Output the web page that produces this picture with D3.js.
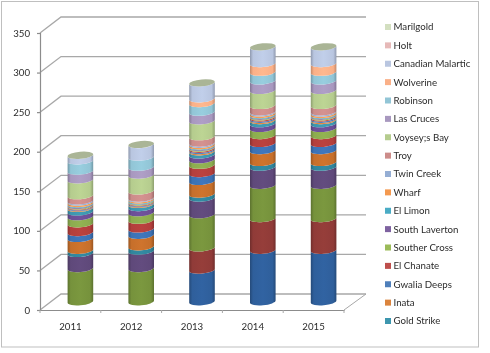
<!DOCTYPE html>
<html lang="en">
<head>
  <meta charset="UTF-8">
  <title>Stacked cylinders</title>
  <script src="https://cdn.jsdelivr.net/npm/d3@7"></script>
  <style>
    body { margin: 0; background: #fff; }
    /* the reference is a soft, resampled screenshot */
    svg { filter: blur(0.35px); }
    text { font-family: Lato, sans-serif; font-size: 9.7px; fill: #2b2b2b; }
  </style>
</head>
<body>
  <svg id="chart" width="490" height="353"></svg>
  <script>
    const years = ["2011", "2012", "2013", "2014", "2015"];
    const yTicks = [0, 50, 100, 150, 200, 250, 300, 350];

    // bands at the foot of the columns have no entry in the legend of the picture
    const lowerBands = [
      [0, 0, 40, 65, 65],
      [0, 0, 28, 40, 40],
      [42, 42, 42, 42, 42],
      [19, 22, 21, 23, 23],
      [4, 5.5, 5, 6, 6],
      [15, 14.5, 16, 15, 15],
      [7.5, 8, 10, 9, 9],
      [11, 11, 10.5, 10, 10],
      [9, 9.5, 7, 9, 9],
      [6, 6.5, 6, 6, 6]
    ];
    const lowerColors = ["#2f5f9b", "#903b38", "#76923c", "#5f497a", "#31859c", "#c66f2b",
                         "#3c72b5", "#b33f3c", "#8cac4f", "#6b4f96"];

    // bottom to top, the legend lists them the other way round
    const names = ["Gold Strike", "Inata", "Gwalia Deeps", "El Chanate", "Souther Cross",
                   "South Laverton", "El Limon", "Wharf", "Twin Creek", "Troy", "Voysey;s Bay",
                   "Las Cruces", "Robinson", "Wolverine", "Canadian Malartic", "Holt", "Marilgold"];
    const namedBands = [
      [4.5, 4, 4, 4, 4],
      [1, 1, 1.5, 1.5, 1.5],
      [1, 1, 1.5, 1.5, 1.5],
      [1, 1, 1.5, 1.5, 1.5],
      [1, 1, 1, 1, 1],
      [1, 0.5, 1, 1, 1],
      [1, 1, 1, 1, 1],
      [2, 1.5, 2, 2, 2],
      [1.5, 1, 1.5, 1.5, 1.5],
      [6.5, 9, 8, 8, 8],
      [20, 20, 20, 19, 19],
      [11, 10, 11, 12, 12],
      [13, 12.7, 11, 11, 11],
      [0, 0, 6, 11, 11],
      [7, 16, 20, 21, 21],
      [0, 0, 0, 0, 0],
      [0, 0, 0, 0, 0]
    ];
    const namedColors = ["#3d96ae", "#db843d", "#4f7fba", "#be4f4c", "#9bbb59", "#7e62a0",
                         "#4aacc5", "#f4994f", "#95aed4", "#cc8c8a", "#b5cc8e", "#a898bf",
                         "#92c5d6", "#fab088", "#b9c6e0", "#e6b9b8", "#d3dfc0"];

    const allBands = lowerBands.concat(namedBands);
    const allColors = lowerColors.concat(namedColors);

    const svg = d3.select("#chart");
    const depthX = 21, depthY = 16;
    const lineColor = "#a8a8a8";

    const x = d3.scaleBand().domain(years).range([40, 344]);
    const y = d3.scaleLinear().domain([0, 350]).range([310, 33]);

    svg.append("rect")
      .attr("x", 1.5).attr("y", 1.5)
      .attr("width", 477).attr("height", 345.5)
      .attr("fill", "#fff").attr("stroke", "#bfbfbf").attr("stroke-width", 1);

    // back wall and side wall lines
    svg.append("g").selectAll("path")
      .data(yTicks)
      .enter()
      .append("path")
      .attr("d", d => `M40,${y(d)}L${40 + depthX},${y(d) - depthY}L${344 + depthX + 1},${y(d) - depthY}`)
      .attr("fill", "none")
      .attr("stroke", lineColor)
      .attr("stroke-width", 1.3);

    // floor edge on the right
    svg.append("path")
      .attr("d", `M344,${y(0)}L${344 + depthX + 1},${y(0) - depthY}`)
      .attr("fill", "none").attr("stroke", lineColor).attr("stroke-width", 1);

    const yAxis = d3.axisLeft(y).tickValues(yTicks).tickSize(3).tickPadding(7);
    const gy = svg.append("g").attr("transform", "translate(40,0)").call(yAxis);

    const xAxis = d3.axisBottom(x).tickSize(0).tickPadding(13);
    const gx = svg.append("g").attr("transform", `translate(0,${y(0)})`).call(xAxis);

    gx.selectAll(".edge")
      .data(d3.range(years.length + 1))
      .enter()
      .append("line")
      .attr("class", "edge")
      .attr("x1", i => 40 + i * x.bandwidth())
      .attr("x2", i => 40 + i * x.bandwidth())
      .attr("y1", 0).attr("y2", 3)
      .attr("stroke", lineColor);

    svg.selectAll(".domain, .tick line").attr("stroke", "#8c8c8c").attr("stroke-width", 1.2);
    svg.selectAll(".tick text").style("font-size", "9.7px").style("font-family", "Lato, sans-serif").attr("fill", "#2b2b2b");

    // one side-to-side shading per colour
    const defs = svg.append("defs");
    allColors.forEach((c, i) => {
      const grad = defs.append("linearGradient").attr("id", "band" + i);
      const base = d3.color(c);
      [[0, base.darker(0.7)], [0.12, base], [0.5, base.brighter(0.12)], [0.88, base], [1, base.darker(0.7)]]
        .forEach(s => grad.append("stop").attr("offset", s[0]).attr("stop-color", s[1]));
    });

    const rx = 12.8, ry = 3.5, tilt = -5;
    const lift = 1.1;          // ends of a band are not level, the cylinder leans a little
    const shiftX = 10, shiftY = 8.3;

    const columns = svg.append("g");
    years.forEach((year, col) => {
      const cx = x(year) + x.bandwidth() / 2 + shiftX;
      let total = 0;
      allBands.forEach((row, i) => {
        const v = row[col];
        if (v === 0) return;
        const y0 = y(total) - shiftY;
        const y1 = y(total + v) - shiftY;
        total += v;
        columns.append("path")
          .attr("d", `M${cx - rx},${y0 + lift}A${rx},${ry} ${tilt} 0 0 ${cx + rx},${y0 - lift}` +
                     `L${cx + rx},${y1 - lift}A${rx},${ry} ${tilt} 0 1 ${cx - rx},${y1 + lift}Z`)
          .attr("fill", `url(#band${i})`);
      });
      columns.append("ellipse")
        .attr("transform", `translate(${cx},${y(total) - shiftY}) rotate(${tilt})`)
        .attr("rx", rx).attr("ry", ry)
        .attr("fill", "#aab596");
    });

    // legend, top row is the last series
    const legendNames = names.slice().reverse();
    const legendColors = namedColors.slice().reverse();
    const rowY = d3.scalePoint().domain(legendNames).range([27, 321]);

    const legend = svg.append("g").selectAll("g")
      .data(legendNames)
      .enter()
      .append("g")
      .attr("transform", d => `translate(385,${rowY(d)})`);

    legend.append("rect")
      .attr("x", 0).attr("y", -3)
      .attr("width", 6).attr("height", 6)
      .attr("fill", (d, i) => legendColors[i]);

    legend.append("text")
      .attr("x", 8.5)
      .attr("dy", "0.35em")
      .text(d => d);
  </script>
</body>
</html>
